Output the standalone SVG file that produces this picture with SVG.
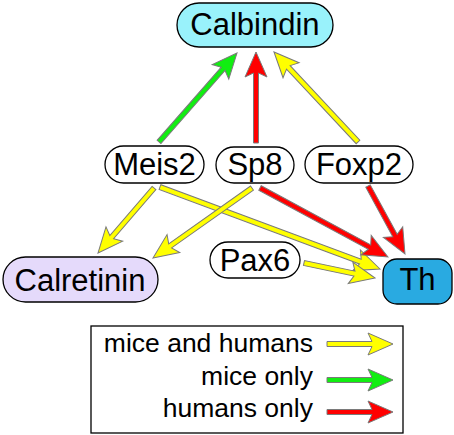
<svg xmlns="http://www.w3.org/2000/svg" width="454" height="435" viewBox="0 0 454 435">
<style>
.node{stroke:#000;stroke-width:1.3}
.lbl{font-family:"Liberation Sans",Arial,sans-serif;font-size:31px;fill:#000;text-anchor:middle}
.leg{font-family:"Liberation Sans",Arial,sans-serif;font-size:26.5px;fill:#000;text-anchor:end}
.arr{stroke:#7a7a7a;stroke-width:1;stroke-linejoin:miter}
.y{fill:#ffff00}.g{fill:#11ee11}.r{fill:#ff0000}
</style>
<rect width="454" height="435" fill="#fff"/>
<g id="connectors">
<path class="arr g" transform="translate(237,53) rotate(-48.77)" d="M0,0 L-25,-11 L-21,-2.5 L-118.3,-2.5 L-118.3,2.5 L-21,2.5 L-25,11 Z"/>
<path class="arr r" transform="translate(256,52) rotate(-90)" d="M0,0 L-25,-11 L-21,-2.5 L-91,-2.5 L-91,2.5 L-21,2.5 L-25,11 Z"/>
<path class="arr y" transform="translate(274,52) rotate(-133.03)" d="M0,0 L-25,-11 L-21,-2.5 L-123.1,-2.5 L-123.1,2.5 L-21,2.5 L-25,11 Z"/>
<path class="arr y" transform="translate(98,253) rotate(130.75)" d="M0,0 L-25,-11 L-21,-2.5 L-85.8,-2.5 L-85.8,2.5 L-21,2.5 L-25,11 Z"/>
<path class="arr y" transform="translate(380,269) rotate(20.44)" d="M0,0 L-25,-11 L-21,-2.5 L-234.8,-2.5 L-234.8,2.5 L-21,2.5 L-25,11 Z"/>
<path class="arr y" transform="translate(153,258) rotate(144.74)" d="M0,0 L-25,-11 L-21,-2.5 L-121.2,-2.5 L-121.2,2.5 L-21,2.5 L-25,11 Z"/>
<path class="arr r" transform="translate(388,257) rotate(28.33)" d="M0,0 L-25,-11 L-21,-2.5 L-145.4,-2.5 L-145.4,2.5 L-21,2.5 L-25,11 Z"/>
<path class="arr r" transform="translate(405,254) rotate(61.45)" d="M0,0 L-25,-11 L-21,-2.5 L-77.4,-2.5 L-77.4,2.5 L-21,2.5 L-25,11 Z"/>
<path class="arr y" transform="translate(375,278) rotate(11.93)" d="M0,0 L-25,-11 L-21,-2.5 L-72.6,-2.5 L-72.6,2.5 L-21,2.5 L-25,11 Z"/>
</g>
<g id="calbindin"><rect class="node" x="177" y="3" width="156" height="44" rx="22" fill="#99f2fb"/><text class="lbl" x="255" y="35">Calbindin</text></g>
<g id="meis2"><rect class="node" x="105" y="146" width="99" height="37" rx="18.5" fill="#fff"/><text class="lbl" x="154.5" y="175">Meis2</text></g>
<g id="sp8"><rect class="node" x="216" y="147" width="78" height="36" rx="18" fill="#fff"/><text class="lbl" x="255" y="175">Sp8</text></g>
<g id="foxp2"><rect class="node" x="305" y="146" width="108" height="37" rx="18.5" fill="#fff"/><text class="lbl" x="359" y="175">Foxp2</text></g>
<g id="calretinin"><rect class="node" x="3" y="257" width="155" height="45" rx="22.5" fill="#e5dafb"/><text class="lbl" x="80" y="291">Calretinin</text></g>
<g id="pax6"><rect class="node" x="210" y="242" width="90" height="36" rx="18" fill="#fff"/><text class="lbl" x="255" y="271">Pax6</text></g>
<g id="th"><rect class="node" x="383" y="259" width="69" height="45" rx="14" fill="#29aae1"/><text class="lbl" x="417.5" y="290">Th</text></g>
<g id="legend">
<rect x="91" y="326" width="312" height="107" fill="#fff" stroke="#000" stroke-width="1.3"/>
<text class="leg" x="313" y="352">mice and humans</text>
<text class="leg" x="313" y="385">mice only</text>
<text class="leg" x="313" y="417">humans only</text>
<path class="arr y" transform="translate(393,344)" d="M0,0 L-25,-11 L-21,-2.5 L-66,-2.5 L-66,2.5 L-21,2.5 L-25,11 Z"/>
<path class="arr g" transform="translate(393,380)" d="M0,0 L-25,-11 L-21,-2.5 L-66,-2.5 L-66,2.5 L-21,2.5 L-25,11 Z"/>
<path class="arr r" transform="translate(393,412)" d="M0,0 L-25,-11 L-21,-2.5 L-66,-2.5 L-66,2.5 L-21,2.5 L-25,11 Z"/>
</g>
</svg>
